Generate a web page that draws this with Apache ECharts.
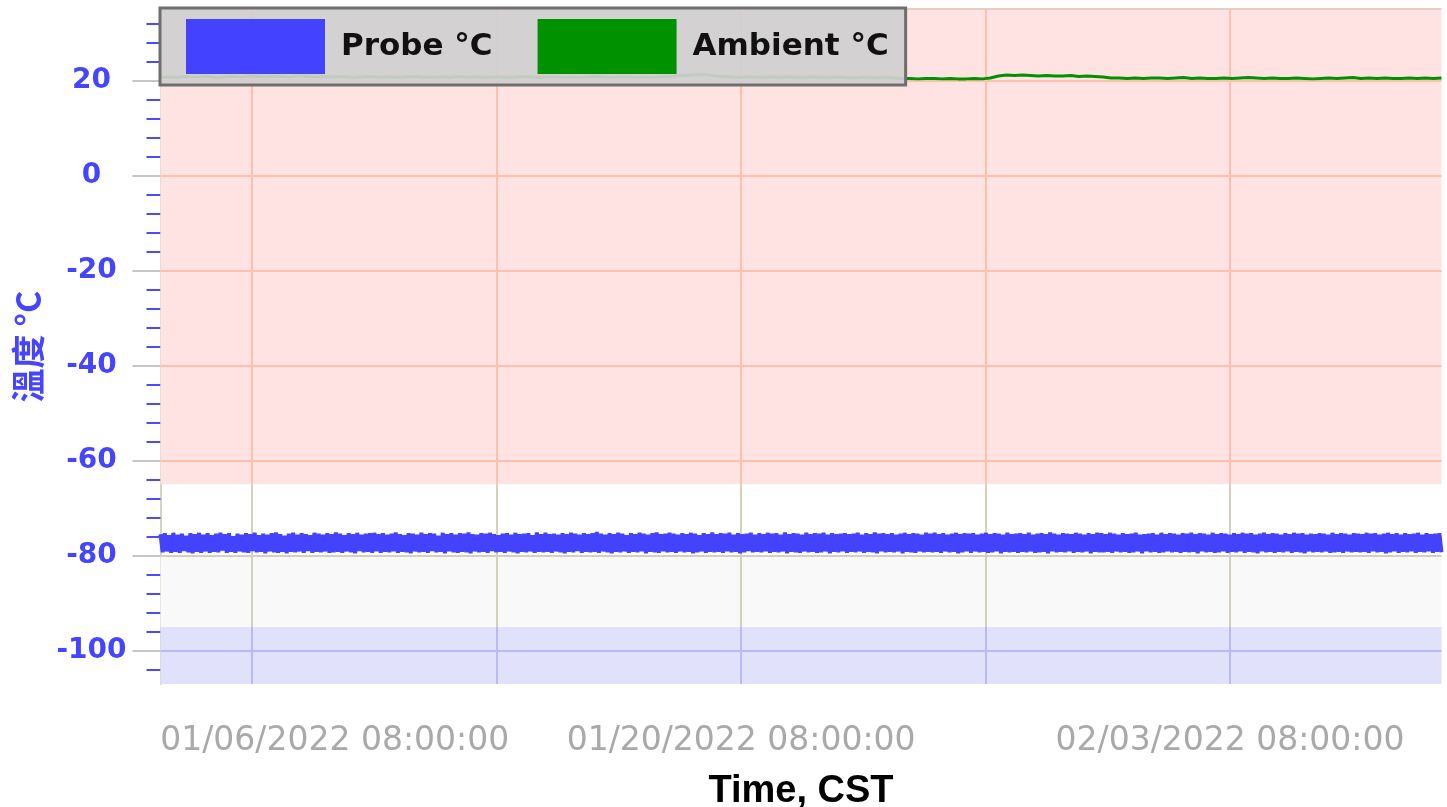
<!DOCTYPE html>
<html>
<head>
<meta charset="utf-8">
<script src="https://cdn.jsdelivr.net/npm/echarts@6/dist/echarts.min.js"></script>
<style>html,body{margin:0;padding:0;background:#fff;}#main{width:1447px;height:807px;}</style>
</head>
<body>
<div id="main"></div>
<script>
// ---- data ----
const seriesNames = ['Probe °C', 'Ambient °C'];
const timeStart = '2022-01-03T17:00:00Z';   // wall-clock CST
const timeEnd = '2022-02-09T09:20:00Z';
const xLabelTimes = ['2022-01-06T08:00:00Z', '2022-01-20T08:00:00Z', '2022-02-03T08:00:00Z'];
const xGridTimes = ['2022-01-06T08:00:00Z', '2022-01-13T08:00:00Z', '2022-01-20T08:00:00Z', '2022-01-27T08:00:00Z', '2022-02-03T08:00:00Z'];
const yMin = -107, yMax = 35;
const yMajorTicks = [-100, -80, -60, -40, -20, 0, 20];
const yMinorTicks = [-104, -96, -92, -88, -84, -76, -72, -68, -64, -56, -52, -48, -44, -36, -32, -28, -24, -16, -12, -8, -4, 4, 8, 12, 16, 24, 28, 32];
const zoneLimits = [-65, -80, -95];   // alarm zone boundaries
const probeC = [
-75.5,-79.3,-75.3,-79.1,-75.7,-79.4,-75.2,-79.2,-75.6,-79.4,-75.4,-79.0,-75.8,-79.3,-75.3,-79.5,-75.5,-79.2,-75.2,-79.4,
-75.6,-79.1,-75.3,-79.4,-75.7,-79.2,-75.4,-79.3,-75.2,-78.9,-75.5,-79.4,-75.3,-79.2,-75.9,-79.4,-75.4,-79.1,-75.6,-79.3,
-75.3,-79.4,-75.5,-79.0,-75.2,-79.3,-75.7,-79.2,-75.4,-79.5,-75.6,-79.1,-75.3,-79.3,-75.1,-79.4,-75.5,-79.2,-75.8,-79.5,
-75.4,-79.2,-75.2,-79.3,-75.6,-79.1,-75.3,-79.4,-75.5,-79.0,-75.7,-79.4,-75.2,-79.2,-75.4,-79.3,-75.6,-79.1,-75.3,-79.4,
-75.5,-79.3,-75.1,-79.2,-75.4,-79.4,-75.7,-79.1,-75.3,-79.3,-75.5,-79.5,-75.2,-79.0,-75.6,-79.3,-75.4,-79.2,-75.3,-79.4,
-75.2,-79.1,-75.5,-79.4,-75.3,-79.2,-75.6,-79.3,-75.4,-79.1,-75.1,-79.4,-75.5,-79.2,-75.7,-79.3,-75.3,-79.5,-75.4,-79.1,
-75.6,-79.3,-75.2,-79.2,-75.5,-79.4,-75.3,-79.0,-75.4,-79.3,-75.8,-79.2,-75.2,-79.5,-75.5,-79.1,-75.3,-79.3,-75.6,-79.4,
-75.3,-79.2,-75.4,-79.3,-75.1,-79.5,-75.5,-79.1,-75.6,-79.3,-75.3,-79.2,-75.4,-79.4,-75.2,-79.0,-75.5,-79.3,-75.7,-79.2,
-75.4,-79.4,-75.3,-79.1,-75.6,-79.3,-75.2,-79.5,-75.5,-79.2,-75.4,-79.3,-75.3,-79.1,-75.7,-79.4,-75.1,-79.2,-75.5,-79.3,
-75.2,-79.2,-75.5,-79.4,-75.4,-79.1,-75.6,-79.3,-75.3,-79.5,-75.5,-79.2,-75.2,-79.3,-75.4,-79.0,-75.6,-79.4,-75.3,-79.2,
-75.5,-79.3,-75.3,-79.2,-75.0,-79.4,-75.4,-79.1,-75.6,-79.3,-75.3,-79.5,-75.5,-79.2,-75.2,-79.3,-75.4,-79.1,-75.7,-79.4,
-75.3,-79.2,-75.5,-79.3,-75.2,-79.1,-75.4,-79.5,-75.6,-79.2,-75.3,-79.3,-75.1,-79.4,-75.5,-79.1,-75.4,-79.3,-75.2,-79.2,
-75.4,-79.4,-75.6,-79.1,-75.3,-79.3,-75.5,-79.2,-75.2,-79.5,-75.4,-79.3,-75.7,-79.1,-75.3,-79.4,-75.5,-79.2,-75.1,-79.3,
-75.5,-79.2,-75.3,-79.4,-75.4,-79.1,-75.2,-79.3,-75.6,-79.2,-75.3,-79.5,-75.5,-79.3,-75.4,-79.0,-75.2,-79.3,-75.6,-79.2,
-75.3,-79.3,-75.5,-79.1,-75.2,-79.4,-75.4,-79.2,-75.3,-79.3,-75.6,-79.1,-75.1,-79.5,-75.5,-79.2,-75.3,-79.3,-75.4,-79.4,
-75.6,-79.1,-75.2,-79.3,-75.5,-79.2,-75.3,-79.4,-75.4,-79.3,-75.2,-79.1,-75.6,-79.5,-75.3,-79.2,-75.5,-79.3,-75.4,-79.1,
-75.3,-79.4,-75.5,-79.2,-75.4,-79.3,-75.2,-79.1,-75.6,-79.4,-75.3,-79.2,-75.5,-79.3,-75.1,-79.5,-75.4,-79.1,-75.3,-79.3,
-75.5,-79.2,-75.3,-79.3,-75.6,-79.1,-75.4,-79.5,-75.2,-79.2,-75.5,-79.3,-75.3,-79.4,-75.4,-79.1,-75.6,-79.3,-75.2,-79.2,
-75.4,-79.3,-75.2,-79.2,-75.5,-79.4,-75.3,-79.1,-75.6,-79.3,-75.4,-79.2,-75.2,-79.5,-75.5,-79.3,-75.3,-79.1,-75.4,-79.4,
-75.3,-79.1,-75.6,-79.3,-75.4,-79.2,-75.2,-79.4,-75.5,-79.3,-75.3,-79.1,-75.4,-79.5,-75.6,-79.2,-75.2,-79.3,-75.5,-79.2,
-75.4,-79.4,-75.3,-79.2,-75.5,-79.3,-75.2,-79.1,-75.6,-79.4,-75.4,-79.3,-75.3,-79.2,-75.5,-79.5,-75.1,-79.1,-75.4,-79.3,
-75.6,-79.2,-75.3,-79.3,-75.4,-79.1,-75.5,-79.4,-75.2,-79.2,-75.4,-79.3,-75.6,-79.1,-75.3,-79.5,-75.5,-79.2,-75.2,-79.3,
-75.3,-79.3,-75.5,-79.2,-75.2,-79.4,-75.4,-79.1,-75.6,-79.3,-75.3,-79.2,-75.5,-79.4,-75.4,-79.3,-75.2,-79.1,-75.6,-79.5,
-75.5,-79.1,-75.4,-79.3,-75.3,-79.2,-75.6,-79.4,-75.2,-79.3,-75.5,-79.1,-75.3,-79.3,-75.4,-79.2,-75.6,-79.4,-75.3,-79.2,
-75.4,-79.3,-75.2,-79.2,-75.5,-79.5,-75.3,-79.1,-75.4,-79.3,-75.6,-79.2,-75.2,-79.4,-75.5,-79.3,-75.3,-79.1,-75.4,-79.4,
-75.6,-79.2,-75.3,-79.3,-75.5,-79.1,-75.2,-79.4,-75.4,-79.2,-75.3,-79.3,-75.6,-79.5,-75.4,-79.1,-75.2,-79.3,-75.5,-79.2,
-75.3,-79.4,-75.4,-79.2,-75.6,-79.3,-75.3,-79.1,-75.5,-79.4,-75.2,-79.2,-75.4,-79.3,-75.3,-79.5,-75.6,-79.1,-75.4,-79.3,
-75.5,-79.2,-75.3,-79.3,-75.4,-79.1,-75.6,-79.4,-75.2,-79.3,-75.5,-79.2,-75.3,-79.4,-75.4,-79.1,-75.6,-79.3,-75.3,-79.2,
-75.4,-79.3,-75.5,-79.2,-75.2,-79.4,-75.4,-79.1,-75.3,-79.3,-75.6,-79.2,-75.4,-79.5,-75.2,-79.3,-75.5,-79.1,-75.3,-79.4,
-75.6,-79.2,-75.3,-79.3,-75.5,-79.1,-75.4,-79.4,-75.2,-79.2,-75.6,-79.3,-75.3,-79.1,-75.5,-79.4,-75.4,-79.2,-75.3,-79.3
];
const ambientC = [
20.6,20.7,20.6,20.8,20.7,20.7,20.8,20.6,20.7,20.8,20.7,20.9,20.8,20.7,20.8,20.8,20.7,20.9,20.8,20.7,
20.8,20.7,20.8,20.7,20.6,20.7,20.8,20.7,20.7,20.6,20.7,20.8,20.7,20.6,20.7,20.7,20.6,20.8,20.7,20.7,
20.6,20.7,20.7,20.6,20.7,20.8,20.7,20.6,20.7,20.7,20.6,20.7,20.6,20.7,20.8,20.7,20.6,20.7,20.7,20.6,
20.7,20.6,20.7,20.8,20.9,21.0,21.1,21.2,21.1,20.9,20.8,20.7,20.6,20.7,20.7,20.6,20.7,20.6,20.7,20.6,
20.6,20.7,20.6,20.6,20.7,20.6,20.5,20.6,20.6,20.5,20.6,20.5,20.4,20.4,20.3,20.4,20.4,20.3,20.4,20.3,
20.3,20.4,20.3,20.5,20.9,21.1,21.0,21.1,21.0,20.9,21.0,20.9,20.9,21.0,20.8,20.9,20.8,20.7,20.5,20.5,
20.4,20.5,20.4,20.5,20.5,20.4,20.5,20.6,20.4,20.5,20.4,20.4,20.5,20.4,20.5,20.6,20.5,20.4,20.5,20.4,
20.4,20.5,20.4,20.3,20.4,20.5,20.4,20.5,20.6,20.4,20.5,20.4,20.5,20.4,20.4,20.5,20.4,20.5,20.4,20.5
];

// ---- build ----
const t0 = Date.parse(timeStart), t1 = Date.parse(timeEnd);
function samples(vals) {
  const step = (t1 - t0) / (vals.length - 1);
  return vals.map((v, i) => [t0 + i * step, v]);
}
function pad(n) { return (n < 10 ? '0' : '') + n; }
function fmt(v) {
  const d = new Date(v);
  return pad(d.getUTCMonth() + 1) + '/' + pad(d.getUTCDate()) + '/' + d.getUTCFullYear() + ' ' +
    pad(d.getUTCHours()) + ':' + pad(d.getUTCMinutes()) + ':' + pad(d.getUTCSeconds());
}
const labelVals = xLabelTimes.map(Date.parse);
const gridVals = xGridTimes.map(Date.parse);

const RED = '#ffbfa9', OLIVE = '#d3d0bb', BLUE = '#b9b9f8';
const hLines = yMajorTicks.map(v => ({
  yAxis: v,
  lineStyle: { color: v > zoneLimits[0] ? RED : (v > zoneLimits[2] ? OLIVE : BLUE), width: 2, type: 'solid' }
}));
hLines.push({ yAxis: yMax, lineStyle: { color: '#e3cfc3', width: 2, type: 'solid' } });
const vLines = [];
gridVals.forEach(t => {
  vLines.push([{ coord: [t, yMax], lineStyle: { color: RED, width: 2, type: 'solid' } }, { coord: [t, zoneLimits[0]] }]);
  vLines.push([{ coord: [t, zoneLimits[0]], lineStyle: { color: OLIVE, width: 2, type: 'solid' } }, { coord: [t, zoneLimits[2]] }]);
  vLines.push([{ coord: [t, zoneLimits[2]], lineStyle: { color: BLUE, width: 2, type: 'solid' } }, { coord: [t, yMin] }]);
});

const chart = echarts.init(document.getElementById('main'), null, { renderer: 'canvas' });
const option = {
  animation: false,
  backgroundColor: '#ffffff',
  grid: { left: 160.5, right: 5.5, top: 9, bottom: 123, containLabel: false, outerBoundsMode: 'none' },
  legend: {
    data: seriesNames.map(n => ({ name: n, icon: 'rect' })),
    left: 160, top: 8,
    orient: 'horizontal',
    padding: [11, 17, 11, 26],
    itemWidth: 139, itemHeight: 55, itemGap: 45,
    backgroundColor: 'rgba(209,208,209,0.93)',
    borderColor: '#6e6e6e', borderWidth: 3,
    selectedMode: false,
    textStyle: { color: '#111', fontSize: 31, fontWeight: 'bold', fontFamily: 'DejaVu Sans', padding: [8, 0, 0, 11] }
  },
  xAxis: {
    type: 'value', min: t0, max: t1,
    axisLine: { show: false }, axisTick: { show: false }, splitLine: { show: false },
    axisLabel: {
      customValues: labelVals,
      margin: 41,
      color: '#a9a9a9', fontSize: 33, fontFamily: 'DejaVu Sans',
      formatter: function (v) {
        return v === labelVals[0] ? '{f|' + fmt(v) + '}' : fmt(v);
      },
      rich: { f: { color: '#a9a9a9', fontSize: 33, fontFamily: 'DejaVu Sans', padding: [0, 0, 0, 165] } }
    },
    name: 'Time, CST', nameLocation: 'middle', nameGap: 89,
    nameTextStyle: { color: '#000', fontSize: 38, fontWeight: 'bold', fontFamily: 'Liberation Sans' }
  },
  yAxis: [{
    type: 'value', min: yMin, max: yMax,
    axisLine: { show: true, lineStyle: { color: '#d7d3c0', width: 2 } },
    axisTick: { show: true, customValues: yMajorTicks, length: 28, lineStyle: { color: '#c6c6c6', width: 2 } },
    axisLabel: {
      customValues: yMajorTicks, align: 'center', margin: 69,
      color: '#4545ff', fontSize: 28, fontWeight: 'bold', fontFamily: 'DejaVu Sans'
    },
    splitLine: { show: false },
    name: '溫度 °C', nameLocation: 'middle', nameGap: 113, nameRotate: 90,
    nameTextStyle: { color: '#4545ff', fontSize: 34, fontWeight: 'bold', fontFamily: 'Noto Sans CJK TC' }
  }, {
    type: 'value', min: yMin, max: yMax, position: 'left',
    axisLine: { show: false },
    axisTick: { show: true, customValues: yMinorTicks, length: 14, lineStyle: { color: '#4a4aff', width: 2 } },
    axisLabel: { show: false }, splitLine: { show: false }
  }],
  series: [
    {
      name: 'zones', type: 'line', data: [], z: 1, silent: true,
      markArea: {
        silent: true, z: 1,
        data: [
          [{ yAxis: zoneLimits[0], itemStyle: { color: '#ffe3e3' } }, { yAxis: yMax }],
          [{ yAxis: zoneLimits[2], itemStyle: { color: '#f9f9f9' } }, { yAxis: zoneLimits[1] }],
          [{ yAxis: yMin, itemStyle: { color: '#e1e1fb' } }, { yAxis: zoneLimits[2] }]
        ]
      }
    },
    {
      name: 'grid', type: 'line', data: [], z: 2, silent: true,
      markLine: {
        silent: true, z: 2, symbol: ['none', 'none'], label: { show: false },
        data: hLines.concat(vLines)
      }
    },
    {
      name: seriesNames[0], type: 'line', z: 3, showSymbol: false, symbol: 'none',
      data: samples(probeC),
      itemStyle: { color: '#4242ff' },
      lineStyle: { color: '#4242ff', width: 4 }
    },
    {
      name: seriesNames[1], type: 'line', z: 3, showSymbol: false, symbol: 'none',
      data: samples(ambientC),
      itemStyle: { color: '#009100' },
      lineStyle: { color: '#009100', width: 3 }
    }
  ]
};
chart.setOption(option);
</script>
</body>
</html>
